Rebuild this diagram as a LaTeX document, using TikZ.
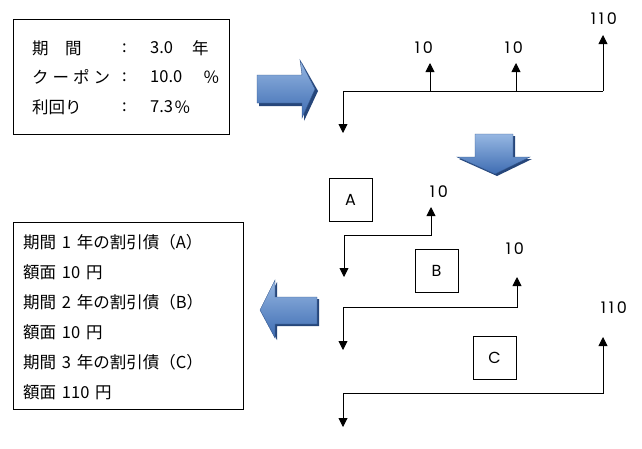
\documentclass[tikz,border=0pt]{standalone}
\usepackage{fontspec}
\setmainfont{Noto Sans CJK JP}
\newfontfamily\lab[LetterSpace=18]{Poppins}
\usetikzlibrary{arrows.meta}
\definecolor{atop}{RGB}{150,183,226}
\definecolor{abot}{RGB}{62,108,178}
\definecolor{ashad}{RGB}{38,70,122}
\newcommand{\hs}{\hspace{0.35em}}
\begin{document}
\begin{tikzpicture}[x=1pt,y=-1pt,
  jp/.style={anchor=west,inner sep=0pt,font=\fontsize{16.5}{18}\selectfont},
  num/.style={inner sep=0pt,font=\lab\fontsize{16}{18}\selectfont},
  bx/.style={draw,line width=0.8pt,minimum width=43pt,minimum height=43pt,inner sep=0pt,font=\lab\fontsize{16}{18}\selectfont},
  frame/.style={draw,line width=0.8pt,anchor=north west,inner sep=0pt},
  tl/.style={line width=0.9pt},
  tip/.tip={Triangle[width=9pt,length=9pt]},
  blk/.style={top color=atop,bottom color=abot,draw=abot!80!black,line width=0.4pt},
  blkshad/.style={fill=ashad,draw=none},
]
\useasboundingbox (0,0) rectangle (642,448);

% ---- top-left info box
\node[frame,minimum width=216pt,minimum height=115pt] (info) at (13,19) {};
\node[jp] (r1a) at (32,48) {期　間};
\node[jp] (r2a) at (32,77) {ク\hspace{4pt}ー\hspace{4pt}ポ\hspace{4pt}ン};
\node[jp] (r3a) at (32,107) {利回り};
\node[jp] (r1c) at (122,48) {:};
\node[jp] (r2c) at (122,77) {:};
\node[jp] (r3c) at (122,107) {:};
\node[jp] (r1v) at (150,48) {3.0};
\node[jp] (r1u) at (192,48) {年};
\node[jp] (r2v) at (150,77) {10.0};
\node[jp] (r2u) at (203,77) {％};
\node[jp] (r3v) at (150,107) {7.3};
\node[jp] (r3u) at (174,107) {％};

% ---- block arrows
% right arrow
\fill[blkshad] (259,78) -- (304,78) -- (302,63) -- (318,91) -- (304,121) -- (304,106) -- (259,106) -- cycle;
\path[blk] (257,75) -- (302,75) -- (300,60) -- (315,89) -- (302,118) -- (302,103) -- (257,103) -- cycle;
% down arrow
\fill[blkshad] (477,136) -- (515,136) -- (515,159) -- (532,159) -- (497,176) -- (459,159) -- (477,159) -- cycle;
\path[blk] (475,134) -- (513,134) -- (513,157) -- (530,157) -- (495,174) -- (457,157) -- (475,157) -- cycle;
% left arrow
\fill[blkshad] (319,299) -- (277,299) -- (277,282) -- (262,312) -- (277,340) -- (277,326) -- (319,326) -- cycle;
\path[blk] (317,297) -- (275,297) -- (275,280) -- (260,310) -- (275,338) -- (275,324) -- (317,324) -- cycle;

% ---- top timeline
\coordinate (t0) at (343,91);
\coordinate (t1) at (430,91);
\coordinate (t2) at (516,91);
\coordinate (t3) at (603,91);
\coordinate (d0) at (343,133);
\coordinate (u1) at (430,63);
\coordinate (u2) at (516,63);
\coordinate (u3) at (603,35);
\draw[tl] (t0) -- (t3);
\draw[tl,-tip] (t0) -- (d0);
\draw[tl,-tip] (t1) -- (u1);
\draw[tl,-tip] (t2) -- (u2);
\draw[tl,-tip] (t3) -- (u3);
\node[num] (n1) at (424,48) {10};
\node[num] (n2) at (514,48) {10};
\node[num] (n3) at (604,19) {110};

% ---- timeline A
\node[bx] (A) at (350.5,199.5) {A};
\node[num] (na) at (439,192) {10};
\coordinate (a0) at (344,277);
\coordinate (a1) at (344,235);
\coordinate (a2) at (431,235);
\coordinate (a3) at (431,207);
\draw[tl,tip-tip] (a0) -- (a1) -- (a2) -- (a3);

% ---- timeline B
\node[bx] (B) at (436.5,271) {B};
\node[num] (nb) at (515,249) {10};
\coordinate (b0) at (343,350);
\coordinate (b1) at (343,307);
\coordinate (b2) at (517,307);
\coordinate (b3) at (517,277);
\draw[tl,tip-tip] (b0) -- (b1) -- (b2) -- (b3);

% ---- timeline C
\node[bx] (C) at (494.5,357.5) {C};
\node[num] (nc) at (614,308) {110};
\coordinate (c0) at (343,427);
\coordinate (c1) at (343,393);
\coordinate (c2) at (603,393);
\coordinate (c3) at (603,337);
\draw[tl,tip-tip] (c0) -- (c1) -- (c2) -- (c3);

% ---- bottom-left box
\node[frame,minimum width=230pt,minimum height=187pt] (sum) at (13,222) {};
\node[jp] (s1) at (23,242) {期間\hs 1\hs 年の割引債（A）};
\node[jp] (s2) at (23,272) {額面\hs 10\hs 円};
\node[jp] (s3) at (23,302) {期間\hs 2\hs 年の割引債（B）};
\node[jp] (s4) at (23,332) {額面\hs 10\hs 円};
\node[jp] (s5) at (23,362) {期間\hs 3\hs 年の割引債（C）};
\node[jp] (s6) at (23,392) {額面\hs 110\hs 円};
\end{tikzpicture}
\end{document}
